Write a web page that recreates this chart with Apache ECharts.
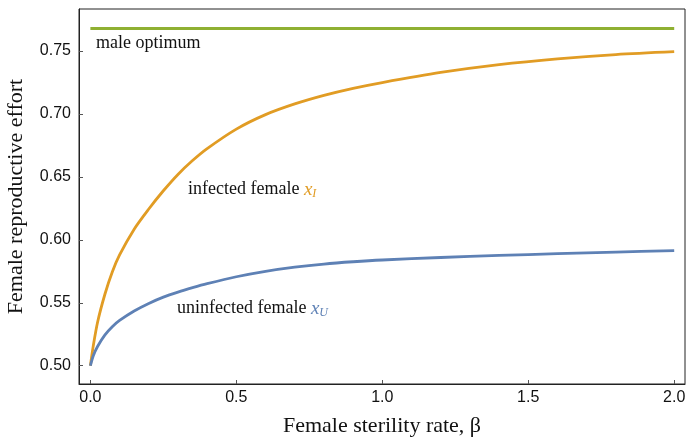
<!DOCTYPE html>
<html><head><meta charset="utf-8">
<script src="https://cdn.jsdelivr.net/npm/echarts@6/dist/echarts.min.js"></script>
<style>html,body{margin:0;padding:0;background:#fff}#c{width:686px;height:438px}</style>
</head><body><div id="c"></div>
<script>
var beta = [0, 0.01, 0.025, 0.05, 0.075, 0.1, 0.15, 0.2, 0.25, 0.3, 0.35, 0.4, 0.5, 0.6, 0.7, 0.8, 0.9, 1.0, 1.2, 1.4, 1.6, 1.8, 2.0];
var infected = [0.500, 0.516, 0.535, 0.557, 0.5745, 0.588, 0.6085, 0.6245, 0.639, 0.652, 0.663, 0.6725, 0.688, 0.6995, 0.7080, 0.7148, 0.7204, 0.7250, 0.7330, 0.7392, 0.7438, 0.7472, 0.7495];
var uninfected = [0.500, 0.508, 0.5155, 0.5245, 0.531, 0.536, 0.5435, 0.5495, 0.5545, 0.5585, 0.5620, 0.5652, 0.5707, 0.5750, 0.5783, 0.5808, 0.5826, 0.5840, 0.5860, 0.5876, 0.5890, 0.5903, 0.5914];
var maleOptimum = 0.768;
var maleRange = [0, 2];
var xTicks = [0, 0.5, 1.0, 1.5, 2.0];
var yTicks = [0.50, 0.55, 0.60, 0.65, 0.70, 0.75];

var C_BLUE = '#5E81B5', C_ORANGE = '#E19C24', C_GREEN = '#8FB032';
function pairs(xs, ys){ return xs.map(function(x,i){ return [x, ys[i]]; }); }

var chart = echarts.init(document.getElementById('c'));
var sans = 'Liberation Sans, Arial, sans-serif';
var serif = 'Liberation Serif, Times New Roman, serif';
var tickLabel = {fontFamily: sans, fontSize: 16, color: '#111'};
chart.setOption({
  animation: false,
  grid: {left: 79, right: 1, top: 9, bottom: 54, show: true, borderColor: '#222', borderWidth: 1, outerBoundsMode: 'none', containLabel: false},
  xAxis: {
    type: 'value', min: -0.039, max: 2.037,
    name: 'Female sterility rate, \u03B2', nameLocation: 'middle', nameGap: 31,
    nameTextStyle: {fontFamily: serif, fontSize: 22, color: '#111'},
    axisLine: {show: true, onZero: false, lineStyle: {color: '#222', width: 1}},
    axisTick: {show: true, inside: true, length: 4, customValues: xTicks, lineStyle: {color: '#555'}},
    axisLabel: Object.assign({customValues: xTicks, margin: 6, formatter: function(v){return v.toFixed(1);}}, tickLabel),
    splitLine: {show: false}
  },
  yAxis: {
    type: 'value', min: 0.4855, max: 0.7834,
    name: 'Female reproductive effort', nameLocation: 'middle', nameGap: 52,
    nameTextStyle: {fontFamily: serif, fontSize: 22, color: '#111'},
    axisLine: {show: true, onZero: false, lineStyle: {color: '#222', width: 1}},
    axisTick: {show: true, inside: true, length: 4, customValues: yTicks, lineStyle: {color: '#555'}},
    axisLabel: Object.assign({customValues: yTicks, margin: 8, formatter: function(v){return v.toFixed(2);}}, tickLabel),
    splitLine: {show: false}
  },
  series: [
    {type: 'line', data: pairs(maleRange, [maleOptimum, maleOptimum]), showSymbol: false, lineStyle: {color: C_GREEN, width: 3}, silent: true},
    {type: 'line', data: pairs(beta, infected), smooth: 0.3, showSymbol: false, lineStyle: {color: C_ORANGE, width: 2.8}, silent: true},
    {type: 'line', data: pairs(beta, uninfected), smooth: 0.3, showSymbol: false, lineStyle: {color: C_BLUE, width: 2.8}, silent: true}
  ]
});

function rich(col){
  return {
    n: {fontFamily: serif, fontSize: 18, fill: '#111', lineHeight: 20, verticalAlign: 'middle'},
    x: {fontFamily: serif, fontSize: 19, fontStyle: 'italic', fill: col, lineHeight: 20, verticalAlign: 'middle'},
    s: {fontFamily: serif, fontSize: 12, fontStyle: 'italic', fill: col, lineHeight: 14, verticalAlign: 'bottom', padding: [6,0,0,0]}
  };
}
chart.setOption({
  graphic: [
    {type: 'text', left: 96, top: 34, style: {text: 'male optimum', font: '18px ' + serif, fill: '#111'}},
    {type: 'text', left: 188, top: 180, style: {text: '{n|infected female }{x|x}{s|I}', rich: rich(C_ORANGE)}},
    {type: 'text', left: 177, top: 299, style: {text: '{n|uninfected female }{x|x}{s|U}', rich: rich(C_BLUE)}}
  ]
});
</script></body></html>
